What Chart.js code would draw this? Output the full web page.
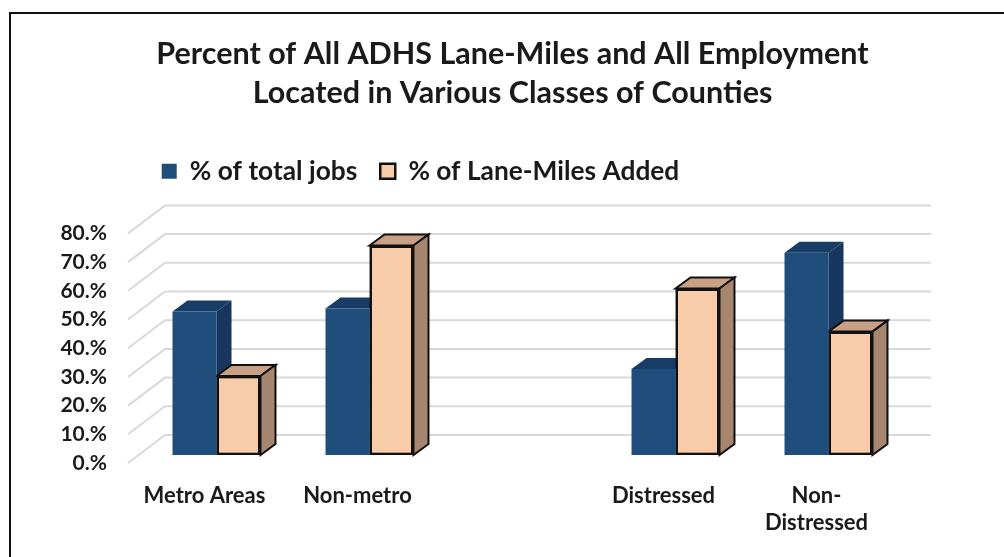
<!DOCTYPE html>
<html>
<head>
<meta charset="utf-8">
<script src="https://cdn.jsdelivr.net/npm/chart.js@4"></script>
<style>
    html, body { margin: 0; padding: 0; background: #fff; }
    #wrap { position: relative; width: 1004px; height: 557px; }
    #frame { position: absolute; left: 9px; top: 12px; right: 0; bottom: 0; border-left: 2px solid #111; border-top: 2px solid #111; pointer-events: none; }
</style>
</head>
<body>
<div id="wrap">
    <canvas id="chart1" width="1004" height="557"></canvas>
    <div id="frame"></div>
</div>
<script>
var categories = ['Metro Areas', 'Non-metro', '', 'Distressed', ['Non-', 'Distressed']];
var totalJobs = [50, 51, null, 30, 70.5];
var laneMiles = [27.5, 73, null, 58, 43];
var yTicks = [0, 10, 20, 30, 40, 50, 60, 70, 80];

var depth = { dx: 15, dy: 11 };
var wall = { front: 12, frontY: 8, back: 25, backY: 20, right: 26 };

// fake 3d: side and top faces, and the floor/wall grid
var fake3d = {
    id: 'fake3d',
    afterLayout: function (chart) {
        // title and legend are not centred on the plot in the original
        chart.titleBlock.left += 55;
        chart.titleBlock.right += 55;
        chart.legend.left -= 37;
        chart.legend.right -= 37;
        chart.legend.top -= 31;
        chart.legend.bottom -= 31;
    },
    beforeDatasetsDraw: function (chart) {
        var c = chart.ctx, area = chart.chartArea, y = chart.scales.y;
        c.save();
        c.strokeStyle = '#d9d9d9';
        c.lineWidth = 2;
        yTicks.forEach(function (t) {
            var p = y.getPixelForValue(t);
            c.beginPath();
            c.moveTo(area.left - wall.front, p + wall.frontY);
            c.lineTo(area.left + wall.back, p - wall.backY);
            c.lineTo(area.right + wall.right, p - wall.backY);
            c.stroke();
        });
        var faces = [
            { top: '#173c66', side: '#17375e', line: null, i: 0 },
            { top: '#c8a086', side: '#a6866f', line: '#111', i: 1 }
        ];
        faces.forEach(function (f) {
            var values = chart.data.datasets[f.i].data;
            chart.getDatasetMeta(f.i).data.forEach(function (b, j) {
                if (values[j] === null) return;
                var l = b.x - b.width / 2, r = b.x + b.width / 2;
                c.lineWidth = 2;
                c.strokeStyle = f.line;
                c.fillStyle = f.top;
                c.beginPath();
                c.moveTo(l, b.y);
                c.lineTo(l + depth.dx, b.y - depth.dy);
                c.lineTo(r + depth.dx, b.y - depth.dy);
                c.lineTo(r, b.y);
                c.closePath();
                c.fill();
                if (f.line) c.stroke();
                c.fillStyle = f.side;
                c.beginPath();
                c.moveTo(r, b.y);
                c.lineTo(r + depth.dx, b.y - depth.dy);
                c.lineTo(r + depth.dx, b.base - depth.dy);
                c.lineTo(r, b.base);
                c.closePath();
                c.fill();
                if (f.line) c.stroke();
            });
        });
        c.restore();
    },
    afterDatasetsDraw: function (chart) {
        // the blue bars are drawn last, put the peach ones back on top
        var values = chart.data.datasets[1].data;
        chart.getDatasetMeta(1).data.forEach(function (b, j) {
            if (values[j] !== null) b.draw(chart.ctx);
        });
    }
};

var ctx1 = document.getElementById('chart1').getContext('2d');
var chart1 = new Chart(ctx1, {
    type: 'bar',
    plugins: [fake3d],
    data: {
        labels: categories,
        datasets: [{
            label: '% of total jobs',
            data: totalJobs,
            backgroundColor: '#1f4e7d',
            borderColor: '#1f4e7d',
            borderWidth: 0
        }, {
            label: '% of Lane-Miles Added',
            data: laneMiles,
            backgroundColor: '#f8cba9',
            borderColor: '#111',
            borderWidth: 2.5,
            borderSkipped: false
        }]
    },
    options: {
        responsive: false,
        animation: false,
        layout: { padding: { left: 10, right: 99, top: 35, bottom: 0 } },
        datasets: { bar: { categoryPercentage: 0.575, barPercentage: 1 } },
        plugins: {
            title: {
                display: true,
                text: ['Percent of All ADHS Lane-Miles and All Employment', 'Located in Various Classes of Counties'],
                color: '#1a1a1a',
                font: { family: 'Lato', size: 30.5, weight: 'bold', lineHeight: 1.28 },
                padding: { top: 0, bottom: 53 }
            },
            legend: {
                position: 'top',
                labels: {
                    boxWidth: 15,
                    boxHeight: 15,
                    padding: 23,
                    color: '#1a1a1a',
                    font: { family: 'Lato', size: 26.3, weight: 'bold' }
                }
            },
            tooltip: { enabled: false }
        },
        scales: {
            x: {
                grid: { display: false, drawTicks: false },
                border: { display: false },
                afterFit: function (s) { s.height = 102; },
                ticks: {
                    color: '#1a1a1a',
                    padding: 27,
                    labelOffset: -12,
                    maxRotation: 0,
                    autoSkip: false,
                    font: { family: 'Lato', size: 22, weight: 'bold', lineHeight: 1.25 }
                }
            },
            y: {
                min: 0,
                max: 80,
                grid: { display: false, drawTicks: false },
                border: { display: false },
                afterFit: function (s) { s.width = 130; },
                afterBuildTicks: function (s) { s.ticks = yTicks.map(function (v) { return { value: v }; }); },
                ticks: {
                    color: '#1a1a1a',
                    padding: 33,
                    labelOffset: 8,
                    callback: function (v) { return v + '.%'; },
                    font: { family: 'Lato', size: 21, weight: 'bold' }
                }
            }
        }
    }
});
</script>
</body>
</html>
